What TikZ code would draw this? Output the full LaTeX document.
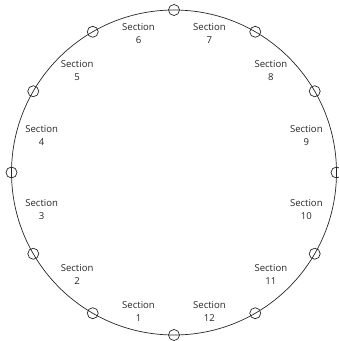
\documentclass[tikz,border=0pt]{standalone}
\usepackage{fontspec}
\setmainfont{Open Sans}
\usetikzlibrary{calc}
\begin{document}
\begin{tikzpicture}[x=1bp, y=1bp]
    \tikzset{
        ring/.style={line width=0.7pt, black!85},
        joint/.style={line width=0.7pt, black!85},
        seclabel/.style={font=\fontsize{9.6}{13}\selectfont, align=center, text=black!85, inner sep=0pt}
    }
    \useasboundingbox (0,0) rectangle (339,341);

    \coordinate (O) at (174,168.5);   % centro

    % circunferencia principal
    \draw[ring] (O) circle (162.5);

    % juntas cada 30 grados
    \foreach \a in {0,30,...,330}
        \draw[joint] ($(O)+(\a:162.5)$) circle (5.5);

    % etiquetas entre las juntas
    \foreach \k in {1,...,12}
        \node[seclabel] (sec\k) at ($(O)+({285-30*\k}:137 and 144)$) {Section\\\k};
\end{tikzpicture}
\end{document}
